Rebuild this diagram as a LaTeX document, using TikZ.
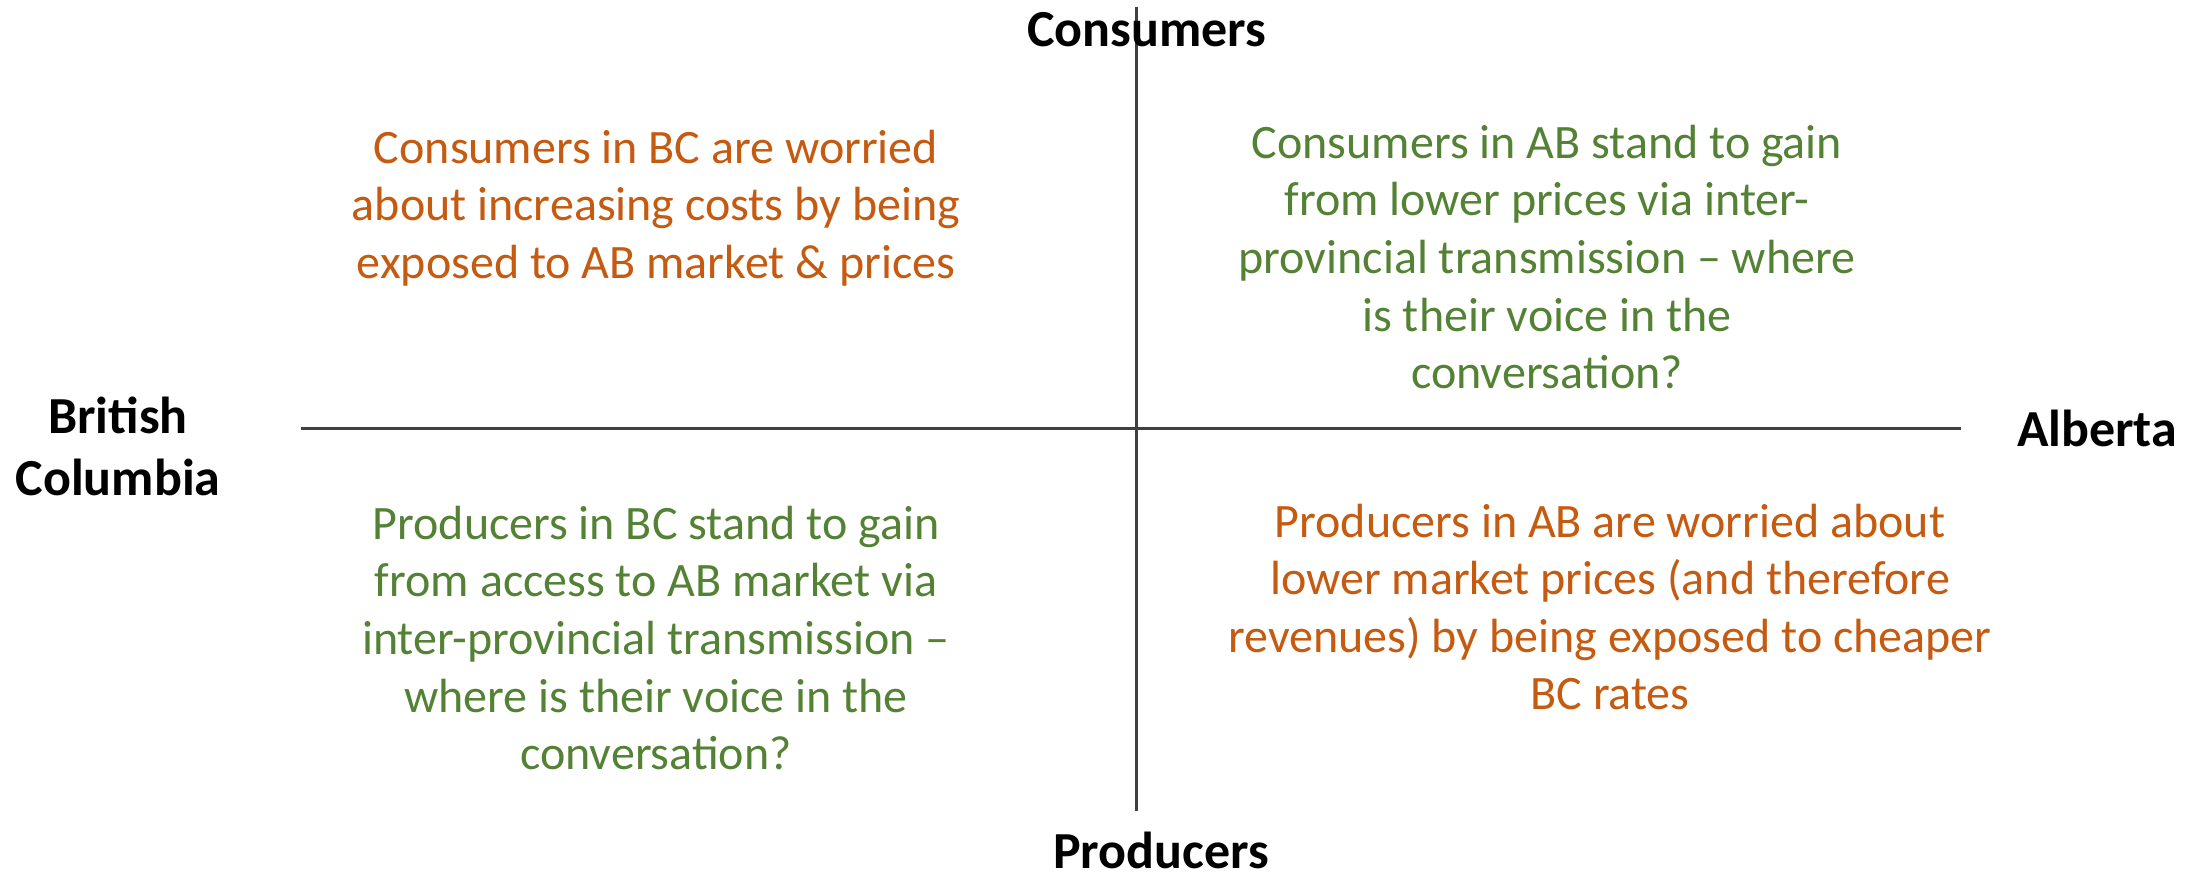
\documentclass[tikz,border=0pt]{standalone}
\usepackage{fontspec}
\setmainfont{Carlito}
\definecolor{warm}{HTML}{C55A11}
\definecolor{leaf}{HTML}{548235}
\definecolor{axis}{HTML}{404040}
\begin{document}
\begin{tikzpicture}[x=0.5pt,y=-0.5pt,
  axisline/.style={draw=axis,line width=1.5pt},
  pole/.style={font=\fontsize{26}{31}\selectfont\bfseries,align=center,inner sep=0pt},
  note/.style={font=\fontsize{24}{28.8}\selectfont,align=center,inner sep=0pt},
  worry/.style={note,text=warm},
  gain/.style={note,text=leaf}]
\useasboundingbox (0,0) rectangle (2199,872);
% axes
\coordinate (top) at (1136,7);
\coordinate (bottom) at (1136,811);
\coordinate (left) at (301,428);
\coordinate (right) at (1961,428);
\draw[axisline] (top) -- (bottom);
\draw[axisline] (left) -- (right);
% poles
\node[pole] (cons) at (1147,30) {Consumers};
\node[pole] (prod) at (1161,850) {Producers};
\node[pole] (bc) at (118,446) {British\\Columbia};
\node[pole] (ab) at (2097,428) {Alberta};
% quadrant notes
\node[worry] (bccons) at (656,208) {Consumers in BC are worried\\about increasing costs by being\\exposed to AB market \& prices};
\node[gain] (abcons) at (1547,257) {Consumers in AB stand to gain\\from lower prices via inter-\\provincial transmission -- where\\is their voice in the\\conversation?};
\node[gain] (bcprod) at (656,638) {Producers in BC stand to gain\\from access to AB market via\\inter-provincial transmission --\\where is their voice in the\\conversation?};
\node[worry] (abprod) at (1610,607) {Producers in AB are worried about\\lower market prices (and therefore\\revenues) by being exposed to cheaper\\BC rates};
\end{tikzpicture}
\end{document}
